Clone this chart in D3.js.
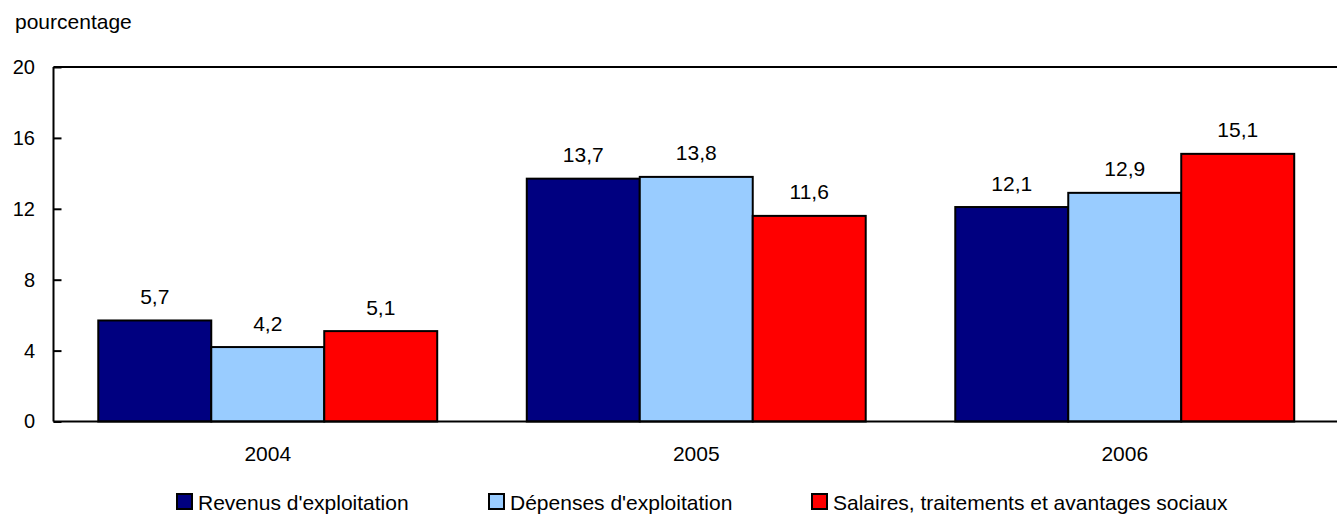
<!DOCTYPE html>
<html><head><meta charset="utf-8">
<script src="https://cdn.jsdelivr.net/npm/d3@7"></script>
<style>body{margin:0;background:#fff;} text{font-family:"Liberation Sans",Arial,sans-serif;fill:#000;}</style>
</head><body>
<svg id="c" width="1337" height="514"></svg>
<script>
const categories = ["2004","2005","2006"];
const seriesNames = ["Revenus d'exploitation","Dépenses d'exploitation","Salaires, traitements et avantages sociaux"];
const revenus = [5.7, 13.7, 12.1];
const depenses = [4.2, 13.8, 12.9];
const salaires = [5.1, 11.6, 15.1];
const yTicks = [0,4,8,12,16,20];
const colors = ["#000080","#99CCFF","#FF0000"];
const series = [revenus, depenses, salaires];

(function(){
const svg = d3.select("#c");
const pL = 53.5, pR = 1339, pT = 67, pB = 421.5;
const FS = 21;
const x = d3.scaleBand().domain(categories).range([pL, pR]).paddingInner(0.209).paddingOuter(0.1045);
const xs = d3.scaleBand().domain(d3.range(3)).range([0, x.bandwidth()]);
const y = d3.scaleLinear().domain([0,20]).range([pB, pT]);
const fmt = v => d3.format(".1f")(v).replace(".", ",");

series.forEach((vals, si) => {
  svg.append("g").selectAll("rect").data(vals).join("rect")
    .attr("x", (d,i) => x(categories[i]) + xs(si))
    .attr("y", d => y(d))
    .attr("width", xs.bandwidth())
    .attr("height", d => y(0) - y(d))
    .attr("fill", colors[si])
    .attr("stroke", "#000").attr("stroke-width", 2);
  svg.append("g").selectAll("text").data(vals).join("text")
    .attr("x", (d,i) => x(categories[i]) + xs(si) + xs.bandwidth()/2)
    .attr("y", d => y(d) - 16.5)
    .attr("text-anchor", "middle")
    .attr("font-size", FS)
    .text(d => fmt(d));
});

svg.append("line").attr("x1", pL).attr("x2", 1337).attr("y1", pT).attr("y2", pT).attr("stroke","#000").attr("stroke-width",2);
svg.append("line").attr("x1", pL).attr("x2", 1337).attr("y1", pB).attr("y2", pB).attr("stroke","#000").attr("stroke-width",2);

const yAxis = d3.axisRight(y).tickValues(yTicks).tickSize(8).tickFormat(d => d);
const gy = svg.append("g").attr("transform", `translate(${pL},0)`).call(yAxis);
gy.select(".domain").attr("stroke","#000").attr("stroke-width",2).attr("d", `M0,${pT}V${pB}`);
gy.selectAll(".tick line").attr("stroke","#000").attr("stroke-width",2);
gy.selectAll(".tick text").attr("x", -18.5).attr("text-anchor","end").attr("font-size",20).attr("font-family","Liberation Sans, Arial, sans-serif").attr("fill","#000");

const xAxis = d3.axisBottom(x).tickSize(0).tickPadding(0);
const gx = svg.append("g").attr("transform", `translate(0,${pB})`).call(xAxis);
gx.select(".domain").remove();
gx.selectAll(".tick text").attr("y", 39.5).attr("dy", 0).attr("font-size",FS).attr("font-family","Liberation Sans, Arial, sans-serif").attr("fill","#000");

svg.append("text").attr("x", 15).attr("y", 28.5).attr("font-size",FS).text("pourcentage");

const legX = [176, 488, 811];
seriesNames.forEach((n, i) => {
  const g = svg.append("g").attr("transform", `translate(${legX[i]},493)`);
  g.append("rect").attr("x",1).attr("y",1).attr("width",15).attr("height",15).attr("fill",colors[i]).attr("stroke","#000").attr("stroke-width",2);
  g.append("text").attr("x",22).attr("y",17).attr("font-size",FS).text(n);
});
})();
</script>
</body></html>
